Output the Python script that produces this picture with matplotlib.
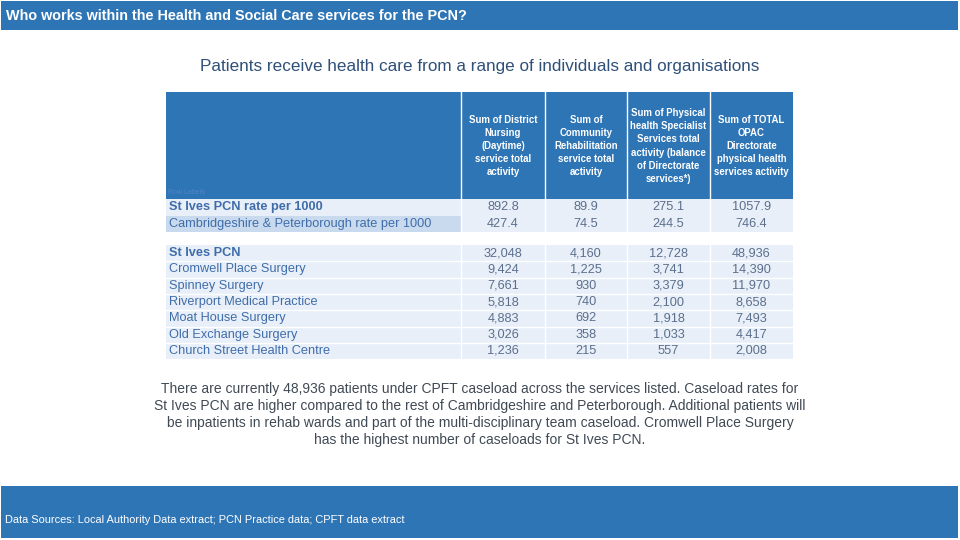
import matplotlib.pyplot as plt
from matplotlib.patches import Rectangle

plt.rcParams["font.family"] = ["Liberation Sans", "DejaVu Sans"]

TITLE = "Who works within the Health and Social Care services for the PCN?"
SUBTITLE = "Patients receive health care from a range of individuals and organisations"

COLUMN_HEADERS = [
    "Sum of District\nNursing\n(Daytime)\nservice total\nactivity",
    "Sum of\nCommunity\nRehabilitation\nservice total\nactivity",
    "Sum of Physical\nhealth Specialist\nServices total\nactivity (balance\nof Directorate\nservices*)",
    "Sum of TOTAL\nOPAC\nDirectorate\nphysical health\nservices activity",
]

RATE_LABELS = ["St Ives PCN rate per 1000", "Cambridgeshire & Peterborough rate per 1000"]
district_rate = [892.8, 427.4]
rehab_rate = [89.9, 74.5]
specialist_rate = [275.1, 244.5]
total_rate = [1057.9, 746.4]

PRACTICES = [
    "St Ives PCN",
    "Cromwell Place Surgery",
    "Spinney Surgery",
    "Riverport Medical Practice",
    "Moat House Surgery",
    "Old Exchange Surgery",
    "Church Street Health Centre",
]
district = [32048, 9424, 7661, 5818, 4883, 3026, 1236]
rehab = [4160, 1225, 930, 740, 692, 358, 215]
specialist = [12728, 3741, 3379, 2100, 1918, 1033, 557]
total = [48936, 14390, 11970, 8658, 7493, 4417, 2008]

SUMMARY = ("There are currently 48,936 patients under CPFT caseload across the services listed. Caseload rates for\n"
           "St Ives PCN are higher compared to the rest of Cambridgeshire and Peterborough. Additional patients will\n"
           "be inpatients in rehab wards and part of the multi-disciplinary team caseload. Cromwell Place Surgery\n"
           "has the highest number of caseloads for St Ives PCN.")
SOURCES = "Data Sources: Local Authority Data extract; PCN Practice data; CPFT data extract"

BLUE = "#2E75B6"
LIGHT = "#E8EFF9"
LABEL_DARK = "#C9DAEE"
LABEL_TEXT = "#3F6DAA"
NUM_TEXT = "#5B6F8C"

# table geometry in pixels
COL_EDGES = [166, 461, 545, 627, 710, 793]
HEADER_TOP, HEADER_BOTTOM = 92, 199
RATE_H = 16.5
PCN_TOP, PCN_H = 245, 16.3
BODY_SIZE = 9.2


def main():
    fig = plt.figure(figsize=(9.6, 5.4), dpi=100)
    ax = fig.add_axes([0, 0, 1, 1])
    ax.set_xlim(0, 960)
    ax.set_ylim(540, 0)
    ax.axis("off")

    # title bar
    ax.add_patch(Rectangle((1, 1), 957, 29, color=BLUE, lw=0))
    ax.text(6, 15.5, TITLE, color="white", fontsize=10.4, fontweight="bold", va="center", ha="left")

    ax.text(480, 66.5, SUBTITLE, color="#2F5079", fontsize=12.3, va="center", ha="center")

    # header block
    ax.add_patch(Rectangle((COL_EDGES[0], HEADER_TOP), COL_EDGES[-1] - COL_EDGES[0],
                           HEADER_BOTTOM - HEADER_TOP, color=BLUE, lw=0))
    ax.text(168, 193, "Row Labels", color="#4F86C6", fontsize=5, va="center", ha="left")
    for i, head in enumerate(COLUMN_HEADERS):
        cx = (COL_EDGES[i + 1] + COL_EDGES[i + 2]) / 2
        ax.text(cx, 146, head, color="white", fontsize=6.9, fontweight="bold",
                va="center", ha="center", linespacing=1.38)

    # rate rows
    rate_cols = [district_rate, rehab_rate, specialist_rate, total_rate]
    for r, label in enumerate(RATE_LABELS):
        y0 = HEADER_BOTTOM + r * RATE_H
        ax.add_patch(Rectangle((COL_EDGES[0], y0), COL_EDGES[-1] - COL_EDGES[0], RATE_H, color=LIGHT, lw=0))
        if r == 1:
            ax.add_patch(Rectangle((COL_EDGES[0], y0), COL_EDGES[1] - COL_EDGES[0], RATE_H,
                                   color=LABEL_DARK, lw=0))
        ax.text(169, y0 + RATE_H / 2, label, color=LABEL_TEXT, fontsize=BODY_SIZE,
                fontweight="bold" if r == 0 else "normal", va="center", ha="left")
        for c, col in enumerate(rate_cols):
            cx = (COL_EDGES[c + 1] + COL_EDGES[c + 2]) / 2
            ax.text(cx, y0 + RATE_H / 2, f"{col[r]:.1f}", color=NUM_TEXT, fontsize=BODY_SIZE,
                    va="center", ha="center")

    # practice rows
    count_cols = [district, rehab, specialist, total]
    for r, name in enumerate(PRACTICES):
        y0 = PCN_TOP + r * PCN_H
        ax.add_patch(Rectangle((COL_EDGES[0], y0), COL_EDGES[-1] - COL_EDGES[0], PCN_H, color=LIGHT, lw=0))
        if r > 0:
            ax.plot([COL_EDGES[0], COL_EDGES[-1]], [y0, y0], color="white", lw=1)
        ax.text(169, y0 + PCN_H / 2, name, color=LABEL_TEXT, fontsize=BODY_SIZE,
                fontweight="bold" if r == 0 else "normal", va="center", ha="left")
        for c, col in enumerate(count_cols):
            cx = (COL_EDGES[c + 1] + COL_EDGES[c + 2]) / 2
            ax.text(cx, y0 + PCN_H / 2, f"{col[r]:,}", color=NUM_TEXT, fontsize=BODY_SIZE,
                    va="center", ha="center")

    # white column separators
    for x in COL_EDGES[1:-1]:
        ax.plot([x, x], [HEADER_TOP, HEADER_BOTTOM + 2 * RATE_H], color="white", lw=1)
        ax.plot([x, x], [PCN_TOP, PCN_TOP + len(PRACTICES) * PCN_H], color="white", lw=1)

    ax.text(480, 414.5, SUMMARY, color="#404A55", fontsize=10, va="center", ha="center", linespacing=1.25)

    # footer bar
    ax.add_patch(Rectangle((1, 486), 957, 52, color=BLUE, lw=0))
    ax.text(5, 520, SOURCES, color="white", fontsize=7.9, va="center", ha="left")

    fig.savefig("out.png", dpi=100)


if __name__ == "__main__":
    main()
